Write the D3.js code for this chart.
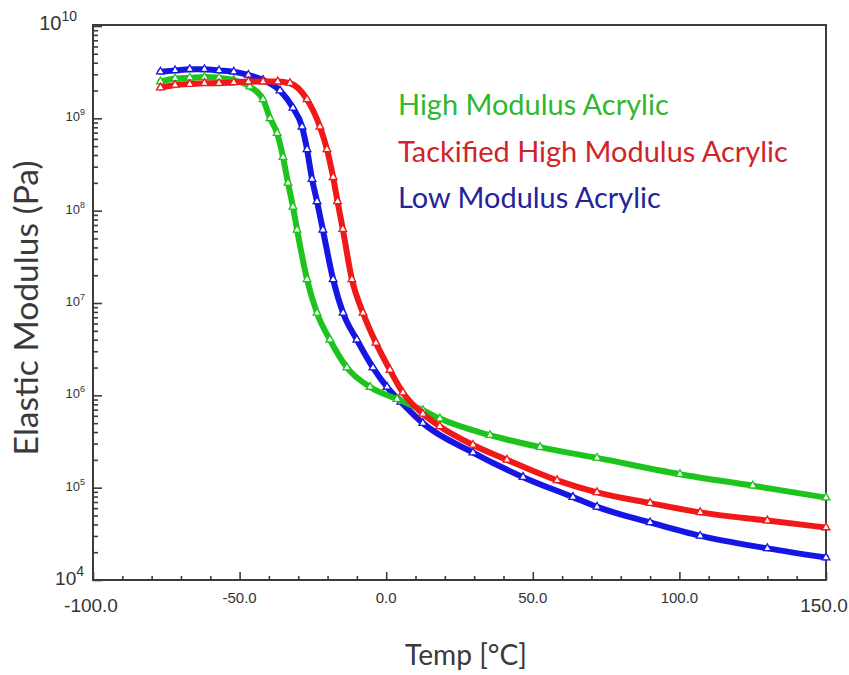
<!DOCTYPE html>
<html>
<head>
<meta charset="utf-8">
<title>Elastic Modulus vs Temp</title>
<script src="https://d3js.org/d3.v7.min.js"></script>
<style>
  body { margin: 0; background: #fff; }
</style>
</head>
<body>
<div id="output"></div>
<script>
// ---- data (temperature in degC, modulus in Pa) ----
var seriesNames = ["High Modulus Acrylic", "Tackified High Modulus Acrylic", "Low Modulus Acrylic"];

var greenTemp = [-77, -72, -67, -62, -57, -52, -46.5, -42, -39.6, -37.2, -35.2, -33.5, -31.8, -30.4, -27, -23.6, -19.2, -13.4, -5.5, 3.7, 12.5, 18.3, 35.4, 52.5, 71.9, 100.2, 125, 150];
var greenMod  = [2.5e9, 2.7e9, 2.75e9, 2.8e9, 2.75e9, 2.6e9, 2.2e9, 1.6e9, 1.0e9, 6.9e8, 3.8e8, 2.0e8, 1.1e8, 6.2e7, 1.8e7, 7.8e6, 4.0e6, 2.0e6, 1.23e6, 9.1e5, 6.9e5, 5.6e5, 3.7e5, 2.75e5, 2.1e5, 1.4e5, 1.05e5, 7.8e4];

var redTemp = [-77, -72, -67, -62, -57, -52, -47, -42, -37, -32.8, -27, -22.6, -20.2, -18.1, -16.6, -14.8, -11.7, -7.9, -3.5, 1.3, 5.7, 12.5, 18.3, 29.6, 41.2, 58.3, 71.9, 90, 107.1, 130, 150];
var redMod  = [2.15e9, 2.3e9, 2.35e9, 2.4e9, 2.4e9, 2.45e9, 2.5e9, 2.5e9, 2.5e9, 2.4e9, 1.6e9, 8.1e8, 4.6e8, 2.3e8, 1.26e8, 6.3e7, 1.8e7, 7.8e6, 3.7e6, 1.88e6, 1.07e6, 6.3e5, 4.6e5, 2.9e5, 2.0e5, 1.2e5, 8.9e4, 6.8e4, 5.4e4, 4.4e4, 3.7e4];

var blueTemp = [-77, -72, -67, -62, -57, -52, -47, -42, -36.2, -31.8, -28.7, -27.0, -25.3, -23.6, -21.6, -18.1, -14.7, -10.0, -4.5, 0.3, 5, 12.5, 29.6, 46.7, 63.7, 71.9, 90, 107.1, 130, 150];
var blueMod  = [3.2e9, 3.3e9, 3.4e9, 3.4e9, 3.3e9, 3.2e9, 2.95e9, 2.6e9, 2.0e9, 1.3e9, 8.1e8, 4.6e8, 2.2e8, 1.26e8, 6.2e7, 1.8e7, 7.8e6, 4.0e6, 2.0e6, 1.23e6, 8.5e5, 5.0e5, 2.4e5, 1.3e5, 7.9e4, 6.2e4, 4.2e4, 3.0e4, 2.2e4, 1.75e4];

var xMajorTicks = [-100, -50, 0, 50, 100, 150];
var xTickLabels = ["-100.0", "-50.0", "0.0", "50.0", "100.0", "150.0"];
var yTickExps   = [4, 5, 6, 7, 8, 9, 10];

// ---- layout ----
var w = 849, h = 675;
var plotL = 93, plotR = 826, plotT = 26, plotB = 580;

var x = d3.scaleLinear().domain([-100, 150]).range([plotL, plotR]);
var y = d3.scaleLog().domain([1e4, 1e10]).range([plotB, plotT]);

var svg = d3.select("#output").append("svg")
    .attr("width", w)
    .attr("height", h)
    .style("display", "block");

svg.append("rect").attr("width", w).attr("height", h).attr("fill", "#fff");

var axisColor = "#3c3c3c";

// minor ticks
var xMinor = d3.range(-90, 150, 10).filter(function(v){ return xMajorTicks.indexOf(v) < 0; });
var yMinor = [];
yTickExps.slice(0, -1).forEach(function(e){
    for (var k = 2; k < 10; k++) yMinor.push(k * Math.pow(10, e));
});

var gx = svg.append("g").attr("transform", "translate(0," + plotB + ")");
gx.call(d3.axisBottom(x).tickValues(xMajorTicks).tickSize(-8).tickFormat(""));
gx.append("g").call(d3.axisBottom(x).tickValues(xMinor).tickSize(-4).tickFormat(""));

var gy = svg.append("g").attr("transform", "translate(" + plotL + ",0)");
gy.call(d3.axisLeft(y).tickValues(yTickExps.map(function(e){ return Math.pow(10, e); })).tickSize(-9).tickFormat(""));
gy.append("g").call(d3.axisLeft(y).tickValues(yMinor).tickSize(-5).tickFormat(""));

svg.selectAll(".domain").remove();
svg.selectAll(".tick line").attr("stroke", axisColor).attr("stroke-width", 1.6);

// frame
svg.append("rect")
    .attr("x", plotL).attr("y", plotT - 1)
    .attr("width", plotR - plotL).attr("height", plotB - plotT + 1)
    .attr("fill", "none")
    .attr("stroke", axisColor)
    .attr("stroke-width", 2);

// curves: blue below, green, red on top
var curves = [
    {t: blueTemp,  v: blueMod,  color: "#1616e4"},
    {t: greenTemp, v: greenMod, color: "#1ec41e"},
    {t: redTemp,   v: redMod,   color: "#f01818"}
];

var line = d3.line()
    .x(function(d){ return x(d[0]); })
    .y(function(d){ return y(d[1]); })
    .curve(d3.curveMonotoneX);

var tri = d3.symbol().type(d3.symbolTriangle).size(26);

curves.forEach(function(c){
    var pts = c.t.map(function(t, i){ return [t, c.v[i]]; });
    var g = svg.append("g");
    g.append("path")
        .datum(pts)
        .attr("d", line)
        .attr("fill", "none")
        .attr("stroke", c.color)
        .attr("stroke-width", 6)
        .attr("stroke-linejoin", "round")
        .attr("stroke-linecap", "round");
    g.selectAll("path.mk")
        .data(pts)
        .enter()
        .append("path")
        .attr("class", "mk")
        .attr("d", tri)
        .attr("transform", function(d){ return "translate(" + x(d[0]) + "," + y(d[1]) + ")"; })
        .attr("fill", "#fff")
        .attr("stroke", c.color)
        .attr("stroke-width", 1.3);
});

// y tick labels (10^n)
var tickFont = "'Liberation Sans', Arial, sans-serif";
yTickExps.forEach(function(e){
    var big = (e === 10 || e === 4);
    var fs = e === 10 ? 20 : (e === 4 ? 19 : 13);
    var endX = e === 10 ? 77 : (e === 4 ? 84 : 85);
    var base = y(Math.pow(10, e)) + (e === 10 ? 4 : (e === 4 ? 5 : 3));
    var t = svg.append("text")
        .attr("x", endX)
        .attr("y", base)
        .attr("text-anchor", "end")
        .attr("font-family", tickFont)
        .attr("fill", "#333");
    t.append("tspan").attr("font-size", fs).text("10");
    t.append("tspan")
        .attr("font-size", big ? 14 : 9)
        .attr("dy", big ? -9 : -6)
        .text(e);
});

// x tick labels
xMajorTicks.forEach(function(v, i){
    var big = (i === 0 || i === xMajorTicks.length - 1);
    svg.append("text")
        .attr("x", x(v) - (big ? 2 : 0))
        .attr("y", big ? 612 : 603)
        .attr("text-anchor", "middle")
        .attr("font-family", tickFont)
        .attr("font-size", big ? 19 : 15)
        .attr("fill", "#333")
        .text(xTickLabels[i]);
});

// fit a text element's font size to a target width
var titleFont = "Lato, 'Open Sans', sans-serif";
function fitText(sel, fs, target) {
    sel.attr("font-size", fs);
    var len = sel.node().getComputedTextLength();
    if (len > 0) sel.attr("font-size", fs * target / len);
    return sel;
}

// axis titles
fitText(svg.append("text")
    .attr("transform", "translate(38,308) rotate(-90)")
    .attr("text-anchor", "middle")
    .attr("font-family", titleFont)
    .attr("fill", "#3a3a3a")
    .text("Elastic Modulus (Pa)"), 26, 295);

fitText(svg.append("text")
    .attr("x", 466)
    .attr("y", 665)
    .attr("text-anchor", "middle")
    .attr("font-family", titleFont)
    .attr("fill", "#3a3a3a")
    .text("Temp [\u00B0C]"), 26, 122);

// legend text
var legendColors = ["#2fb82f", "#d0242a", "#24249a"];
var legendY = [115, 162, 208];
var probe = fitText(svg.append("text")
    .attr("font-family", titleFont)
    .text(seriesNames[1]), 26, 390);
var legendFs = +probe.attr("font-size");
probe.remove();

seriesNames.forEach(function(name, i){
    svg.append("text")
        .attr("x", 398)
        .attr("y", legendY[i])
        .attr("font-family", titleFont)
        .attr("font-size", legendFs)
        .attr("fill", legendColors[i])
        .text(name);
});
</script>
</body>
</html>
